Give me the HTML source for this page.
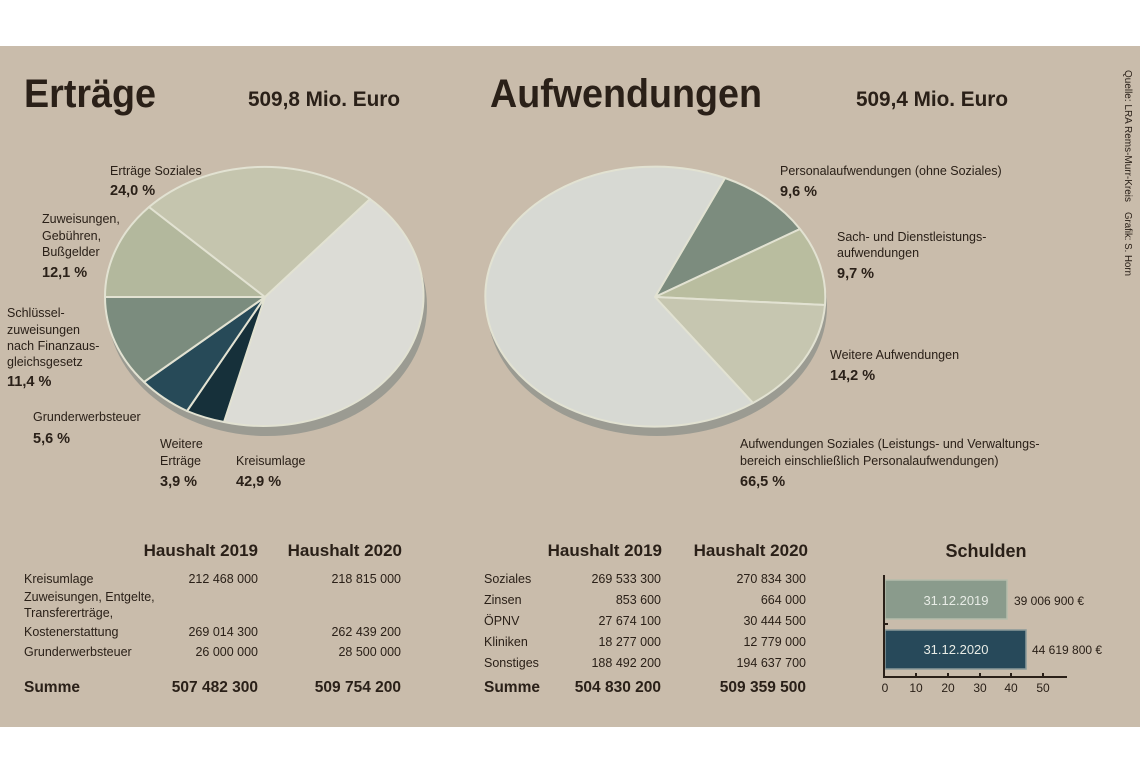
<!DOCTYPE html>
<html><head><meta charset="utf-8"><style>
html,body{margin:0;padding:0;background:#fff;width:1140px;height:760px;overflow:hidden}
svg{display:block}
text{font-family:"Liberation Sans",sans-serif;fill:#2a2018}
.l{font-size:12.5px}
.p{font-size:14.5px;font-weight:bold}
.t{font-size:12.5px}
.h{font-size:17px;font-weight:bold}
.s{font-size:15.5px;font-weight:bold}
</style></head><body>
<svg width="1140" height="760" viewBox="0 0 1140 760">
<rect x="0" y="46" width="1140" height="681" fill="#c9bcab"/>
<text x="24" y="107" font-size="40" font-weight="bold" textLength="132" lengthAdjust="spacingAndGlyphs">Erträge</text>
<text x="248" y="106" font-size="21" font-weight="bold" textLength="152" lengthAdjust="spacingAndGlyphs">509,8 Mio. Euro</text>
<text x="490" y="107" font-size="40" font-weight="bold" textLength="272" lengthAdjust="spacingAndGlyphs">Aufwendungen</text>
<text x="856" y="106" font-size="21" font-weight="bold" textLength="152" lengthAdjust="spacingAndGlyphs">509,4 Mio. Euro</text>
<text transform="translate(1125,70) rotate(90)" font-size="10" textLength="132" lengthAdjust="spacingAndGlyphs">Quelle: LRA Rems-Murr-Kreis</text>
<text transform="translate(1125,212) rotate(90)" font-size="10" textLength="64" lengthAdjust="spacingAndGlyphs">Grafik: S. Horn</text>

<!-- left pie -->
<ellipse cx="267" cy="306" rx="160" ry="130" fill="#9b9b92"/>
<g stroke="#e2e2d2" stroke-width="2" stroke-linejoin="round">
<path d="M265,297 L370,199 A160,130 0 0,1 224,422 Z" fill="#dcdcd6"/>
<path d="M265,297 L224,422 A160,130 0 0,1 187,411 Z" fill="#16303a"/>
<path d="M265,297 L187,411 A160,130 0 0,1 144,382 Z" fill="#274a58"/>
<path d="M265,297 L144,382 A160,130 0 0,1 105,297 Z" fill="#7b8c7e"/>
<path d="M265,297 L105,297 A160,130 0 0,1 149,207 Z" fill="#b3b89d"/>
<path d="M265,297 L149,207 A160,130 0 0,1 370,199 Z" fill="#c5c5ae"/>
</g>
<!-- right pie -->
<ellipse cx="657" cy="306" rx="170" ry="130" fill="#9b9b92"/>
<g stroke="#e2e2d2" stroke-width="2" stroke-linejoin="round">
<path d="M655,297 L725,178 A170,130 0 0,1 800,229 Z" fill="#7c8c7e"/>
<path d="M655,297 L800,229 A170,130 0 0,1 825,305 Z" fill="#b9bd9f"/>
<path d="M655,297 L825,305 A170,130 0 0,1 753,403 Z" fill="#c6c6b0"/>
<path d="M655,297 L753,403 A170,130 0 1,1 725,178 Z" fill="#d7d9d3"/>
</g>

<!-- left labels -->
<text class="l" x="110" y="175">Erträge Soziales</text>
<text class="p" x="110" y="195">24,0 %</text>
<text class="l" x="42" y="223">Zuweisungen,</text>
<text class="l" x="42" y="240">Gebühren,</text>
<text class="l" x="42" y="256">Bußgelder</text>
<text class="p" x="42" y="277">12,1 %</text>
<text class="l" x="7" y="317">Schlüssel-</text>
<text class="l" x="7" y="334">zuweisungen</text>
<text class="l" x="7" y="350">nach Finanzaus-</text>
<text class="l" x="7" y="366">gleichsgesetz</text>
<text class="p" x="7" y="386">11,4 %</text>
<text class="l" x="33" y="421">Grunderwerbsteuer</text>
<text class="p" x="33" y="443">5,6 %</text>
<text class="l" x="160" y="448">Weitere</text>
<text class="l" x="160" y="465">Erträge</text>
<text class="p" x="160" y="486">3,9 %</text>
<text class="l" x="236" y="465">Kreisumlage</text>
<text class="p" x="236" y="486">42,9 %</text>

<!-- right labels -->
<text class="l" x="780" y="175">Personalaufwendungen (ohne Soziales)</text>
<text class="p" x="780" y="196">9,6 %</text>
<text class="l" x="837" y="241">Sach- und Dienstleistungs-</text>
<text class="l" x="837" y="257">aufwendungen</text>
<text class="p" x="837" y="278">9,7 %</text>
<text class="l" x="830" y="359">Weitere  Aufwendungen</text>
<text class="p" x="830" y="380">14,2 %</text>
<text class="l" x="740" y="448">Aufwendungen Soziales (Leistungs- und Verwaltungs-</text>
<text class="l" x="740" y="465">bereich einschließlich Personalaufwendungen)</text>
<text class="p" x="740" y="486">66,5 %</text>

<!-- left table -->
<text class="h" x="258" y="556" text-anchor="end">Haushalt 2019</text>
<text class="h" x="402" y="556" text-anchor="end">Haushalt 2020</text>
<text class="t" x="24" y="583">Kreisumlage</text>
<text class="t" x="258" y="583" text-anchor="end">212 468 000</text>
<text class="t" x="401" y="583" text-anchor="end">218 815 000</text>
<text class="t" x="24" y="601">Zuweisungen, Entgelte,</text>
<text class="t" x="24" y="617">Transfererträge,</text>
<text class="t" x="24" y="636">Kostenerstattung</text>
<text class="t" x="258" y="636" text-anchor="end">269 014 300</text>
<text class="t" x="401" y="636" text-anchor="end">262 439 200</text>
<text class="t" x="24" y="656">Grunderwerbsteuer</text>
<text class="t" x="258" y="656" text-anchor="end">26 000 000</text>
<text class="t" x="401" y="656" text-anchor="end">28 500 000</text>
<text class="s" x="24" y="692">Summe</text>
<text class="s" x="258" y="692" text-anchor="end">507 482 300</text>
<text class="s" x="401" y="692" text-anchor="end">509 754 200</text>

<!-- right table -->
<text class="h" x="662" y="556" text-anchor="end">Haushalt 2019</text>
<text class="h" x="808" y="556" text-anchor="end">Haushalt 2020</text>
<text class="t" x="484" y="583">Soziales</text>
<text class="t" x="661" y="583" text-anchor="end">269 533 300</text>
<text class="t" x="806" y="583" text-anchor="end">270 834 300</text>
<text class="t" x="484" y="604">Zinsen</text>
<text class="t" x="661" y="604" text-anchor="end">853 600</text>
<text class="t" x="806" y="604" text-anchor="end">664 000</text>
<text class="t" x="484" y="625">ÖPNV</text>
<text class="t" x="661" y="625" text-anchor="end">27 674 100</text>
<text class="t" x="806" y="625" text-anchor="end">30 444 500</text>
<text class="t" x="484" y="646">Kliniken</text>
<text class="t" x="661" y="646" text-anchor="end">18 277 000</text>
<text class="t" x="806" y="646" text-anchor="end">12 779 000</text>
<text class="t" x="484" y="667">Sonstiges</text>
<text class="t" x="661" y="667" text-anchor="end">188 492 200</text>
<text class="t" x="806" y="667" text-anchor="end">194 637 700</text>
<text class="s" x="484" y="692">Summe</text>
<text class="s" x="661" y="692" text-anchor="end">504 830 200</text>
<text class="s" x="806" y="692" text-anchor="end">509 359 500</text>

<!-- Schulden -->
<text x="986" y="557" font-size="18" font-weight="bold" text-anchor="middle">Schulden</text>
<rect x="885" y="580" width="122" height="39" fill="#8a9b8c" stroke="#b5bcab" stroke-width="1.5"/>
<rect x="885" y="630" width="141" height="39" fill="#27495a" stroke="#8b9a9a" stroke-width="1.5"/>
<text x="956" y="605" font-size="13" text-anchor="middle" style="fill:#e8ece6">31.12.2019</text>
<text x="956" y="654" font-size="13" text-anchor="middle" style="fill:#e8ece6">31.12.2020</text>
<text x="1014" y="605" font-size="12">39 006 900 €</text>
<text x="1032" y="654" font-size="12">44 619 800 €</text>
<g stroke="#2a2018" stroke-width="2">
<line x1="884" y1="575" x2="884" y2="678"/>
<line x1="883" y1="677" x2="1067" y2="677"/>
<line x1="884" y1="624" x2="888" y2="624"/>
<line x1="916" y1="673" x2="916" y2="677"/>
<line x1="948" y1="673" x2="948" y2="677"/>
<line x1="980" y1="673" x2="980" y2="677"/>
<line x1="1011" y1="673" x2="1011" y2="677"/>
<line x1="1043" y1="673" x2="1043" y2="677"/>
</g>
<g font-size="12" text-anchor="middle">
<text x="885" y="692">0</text><text x="916" y="692">10</text><text x="948" y="692">20</text>
<text x="980" y="692">30</text><text x="1011" y="692">40</text><text x="1043" y="692">50</text>
</g>
</svg>
</body></html>
